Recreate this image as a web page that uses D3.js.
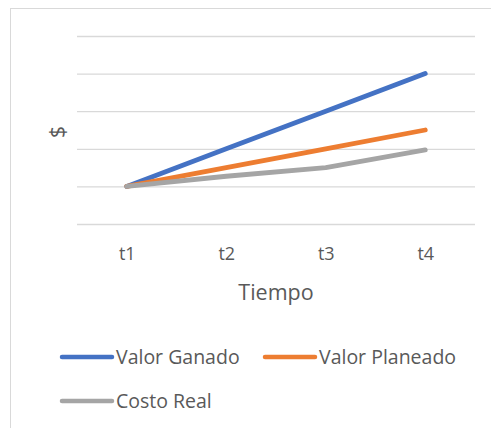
<!DOCTYPE html>
<html><head><meta charset="utf-8">
<script src="https://cdn.jsdelivr.net/npm/d3@7"></script>
<style>html,body{margin:0;padding:0;background:#fff;}</style>
</head><body>
<script>
const categories = ["t1","t2","t3","t4"];
const valorGanado = [1, 2, 3, 4];
const valorPlaneado = [1, 1.5, 2, 2.5];
const costoReal = [1, 1.27, 1.5, 1.97];
const yTicks = [0, 1, 2, 3, 4, 5];
const seriesNames = ["Valor Ganado", "Valor Planeado", "Costo Real"];
const colors = ["#4472C4", "#ED7D31", "#A5A5A5"];

const W = 491, H = 428;
const svg = d3.select("body").append("svg").attr("width", W).attr("height", H);
const font = "'Open Sans', sans-serif";
const txt = "#595959";

// chart border
svg.append("rect").attr("x", 10.5).attr("y", 8.5).attr("width", 500).attr("height", 440)
  .attr("fill", "none").attr("stroke", "#d9d9d9").attr("stroke-width", 1);

const x = d3.scalePoint().domain(categories).range([77, 475]).padding(0.5);
const y = d3.scaleLinear().domain([0, 5]).range([224, 36]);

// gridlines
const yAxis = d3.axisLeft(y).tickValues(yTicks).tickSize(-(475 - 77)).tickFormat("");
const ga = svg.append("g").attr("transform", "translate(77,0)").call(yAxis);
ga.select(".domain").remove();
ga.selectAll("line").attr("stroke", "#d9d9d9").attr("stroke-width", 1.3);

// x axis labels
const xAxis = d3.axisBottom(x).tickSize(0).tickPadding(0);
const gx = svg.append("g").attr("transform", "translate(0,254)").call(xAxis);
gx.select(".domain").remove();
gx.selectAll("text").attr("fill", txt).attr("font-family", font).attr("font-size", 18).attr("dy", "0.35em");

// axis titles
svg.append("text").attr("x", 276).attr("y", 292).attr("dy", "0.35em").attr("text-anchor", "middle")
  .attr("fill", txt).attr("font-family", font).attr("font-size", 21.5).text("Tiempo");
svg.append("text").attr("transform", "translate(58,132) rotate(-90)").attr("text-anchor", "middle")
  .attr("dy", "0.35em")
  .attr("fill", txt).attr("font-family", font).attr("font-size", 21).text("$");

// lines
const data = [valorGanado, valorPlaneado, costoReal];
const line = d3.line().x((d, i) => x(categories[i])).y(d => y(d));
data.forEach((s, i) => {
  svg.append("path").attr("d", line(s)).attr("fill", "none")
    .attr("stroke", colors[i]).attr("stroke-width", 4.8)
    .attr("stroke-linecap", "round").attr("stroke-linejoin", "round");
});

// legend
const legendItems = [
  {name: seriesNames[0], color: colors[0], x: 62, y: 357},
  {name: seriesNames[1], color: colors[1], x: 265, y: 357},
  {name: seriesNames[2], color: colors[2], x: 62, y: 401}
];
legendItems.forEach(it => {
  svg.append("line").attr("x1", it.x).attr("x2", it.x + 50).attr("y1", it.y).attr("y2", it.y)
    .attr("stroke", it.color).attr("stroke-width", 4.5).attr("stroke-linecap", "round");
  svg.append("text").attr("x", it.x + 54).attr("y", it.y).attr("dy", "0.35em")
    .attr("fill", txt).attr("font-family", font).attr("font-size", 19.5).text(it.name);
});
</script>
</body></html>
